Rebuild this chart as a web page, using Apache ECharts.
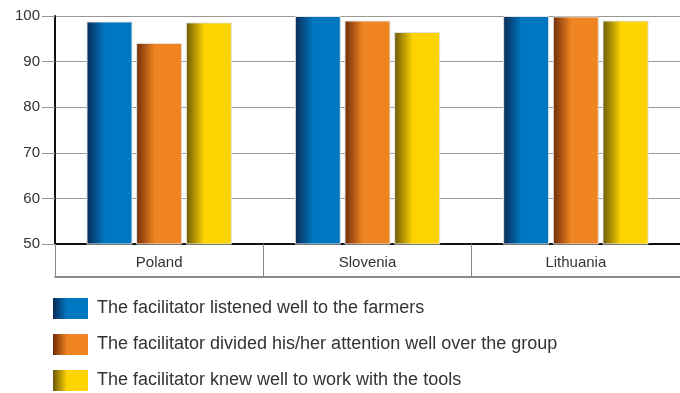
<!DOCTYPE html>
<html>
<head>
<meta charset="utf-8">
<script src="https://cdn.jsdelivr.net/npm/echarts@6/dist/echarts.min.js"></script>
<style>
  html, body { margin: 0; padding: 0; background: #fff; }
  #chart { width: 680px; height: 393px; }
</style>
</head>
<body>
<div id="chart"></div>
<script>
const countries = ['Poland', 'Slovenia', 'Lithuania']
const seriesNames = [
  'The facilitator listened well to the farmers',
  'The facilitator divided his/her attention well over the group',
  'The facilitator knew well to work with the tools'
]
const listenedWell = [98.8, 100, 100]
const dividedAttention = [94.1, 99, 99.9]
const knewTools = [98.6, 96.5, 99]

const yTicks = { min: 50, max: 100, interval: 10 }

// dark edge -> main colour, gives the "tube" look of the original
function shade(dark, main) {
  return new echarts.graphic.LinearGradient(0, 0, 1, 0, [
    { offset: 0, color: dark },
    { offset: 0.4, color: main },
    { offset: 1, color: main }
  ])
}

const palette = [
  shade('#0a2a55', '#0077c0'),
  shade('#6e2c06', '#f08422'),
  shade('#6a5808', '#fdd300')
]

const chart = echarts.init(document.getElementById('chart'))
const font = 'Liberation Sans, sans-serif'

function bar(name, data, i) {
  return {
    name: name,
    type: 'bar',
    data: data,
    barWidth: 46,
    barGap: '8%',
    itemStyle: {
      color: palette[i],
      borderColor: '#e2e2e2',
      borderWidth: 1
    }
  }
}

// one legend per row, so the list never wraps into columns
const legendTops = [298, 334, 370]
const legends = seriesNames.map((name, i) => ({
  data: [name],
  orient: 'vertical',
  left: 53,
  top: legendTops[i],
  padding: 0,
  itemWidth: 35,
  itemHeight: 21,
  icon: 'rect',
  itemStyle: { borderWidth: 0 },
  textStyle: { fontSize: 18, color: '#333', fontFamily: font, padding: [0, 0, 0, 4] }
}))

chart.setOption({
  animation: false,
  grid: { left: 55, right: 0, top: 16, bottom: 149 },
  legend: legends,
  xAxis: [
    {
      type: 'category',
      data: countries,
      axisLine: { lineStyle: { color: '#111', width: 2 } },
      axisTick: { show: true, length: 33, lineStyle: { color: '#888' } },
      axisLabel: { fontSize: 15, color: '#333', fontFamily: font, margin: 11 }
    },
    {
      type: 'category',
      data: countries,
      position: 'bottom',
      offset: 33,
      axisLine: { lineStyle: { color: '#666', width: 1.5 } },
      axisTick: { show: false },
      axisLabel: { show: false }
    }
  ],
  yAxis: {
    type: 'value',
    min: yTicks.min,
    max: yTicks.max,
    interval: yTicks.interval,
    axisLine: { show: true, lineStyle: { color: '#111', width: 2 } },
    axisTick: { show: true, length: 13, lineStyle: { color: '#999' } },
    axisLabel: { fontSize: 15, color: '#333', fontFamily: font, margin: 15 },
    splitLine: { lineStyle: { color: '#999', width: 1 } }
  },
  series: [
    bar(seriesNames[0], listenedWell, 0),
    bar(seriesNames[1], dividedAttention, 1),
    bar(seriesNames[2], knewTools, 2)
  ]
})
</script>
</body>
</html>
